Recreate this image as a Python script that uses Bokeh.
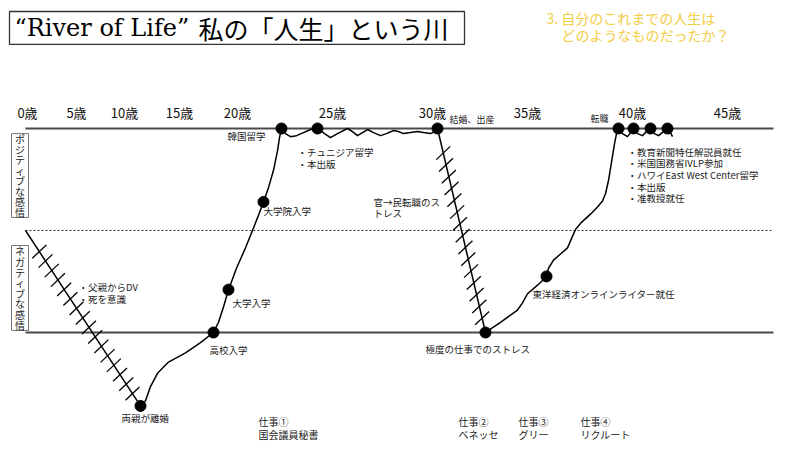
from bokeh.plotting import figure
from bokeh.models import Range1d
from bokeh.core.properties import value
from bokeh.embed import file_html
from bokeh.resources import INLINE
import numpy as np

JP = "Noto Sans CJK JP"

# ---------------- data ----------------
# timeline (horizontal position) tick labels
age_labels = ["0歳", "5歳", "10歳", "15歳", "20歳", "25歳", "30歳", "35歳", "40歳", "45歳"]
age_pos = [27, 76, 124, 179, 237, 332, 432, 527, 632, 727]
age_label_level = 116

# emotion reference levels
level_names = ["positive", "neutral", "negative"]
level_values = [100, 0, -100]
timeline_start, timeline_end = 25, 773

# hard periods (hatched straight segments): start/end (position, emotion)
hard_x0 = [25, 437]
hard_y0 = [0, 100]
hard_x1 = [140, 485]
hard_y1 = [-172, -100]
hard_n = [16, 15]

# smooth river segments
seg_b_x = [140, 145, 150, 157, 168, 185, 200, 213, 218, 223, 228, 236, 245, 252, 258, 263, 268, 273, 277, 279, 281]
seg_b_y = [-172, -167, -153, -140, -129, -120, -110, -100, -90, -75, -58, -37, -17, 0, 15, 28, 42, 59, 78, 91, 100]

wave1_x = [281, 285, 290, 296, 303, 310, 317, 324, 330, 337, 347, 352, 357, 362, 367, 373, 380, 386, 393, 398, 403, 410, 417, 423, 430, 434, 437]
wave1_y = [100, 95, 92, 93, 96, 99, 100, 95, 91, 95, 100, 97, 93, 96, 99, 96, 93, 95, 98, 97, 95, 96, 97, 96, 95, 97, 100]

seg_d_x = [485, 500, 510, 517, 522, 527, 533, 540, 546, 548, 553, 560, 567, 571, 575, 581, 590, 597, 602, 605, 608, 610, 612, 614, 616, 618]
seg_d_y = [-100, -90, -83, -78, -71, -62, -57, -51, -45, -37, -29, -23, -17, -8, 1, 8, 16, 23, 29, 36, 49, 61, 73, 85, 95, 100]

wave2_x = [618, 622, 627, 630, 633, 637, 642, 646, 650, 654, 658, 663, 667, 670, 672]
wave2_y = [100, 95, 92, 96, 100, 95, 93, 97, 100, 95, 93, 97, 100, 96, 92]

# events (dots)
event_x = [140, 213, 228, 263, 281, 317, 437, 485, 546, 618, 633, 650, 667]
event_y = [-172, -100, -58, 28, 100, 100, 100, -100, -45, 100, 100, 100, 100]

# annotations (9.5px)
note_text = ["韓国留学", "・チュニジア留学", "・本出版", "大学院入学", "官→民転職のス", "トレス",
             "大学入学", "・父親からDV", "・死を意識", "高校入学", "極度の仕事でのストレス",
             "東洋経済オンラインライター就任",
             "・教育新聞特任解説員就任", "・米国国務省IVLP参加", "・ハワイEast West Center留学",
             "・本出版", "・准教授就任", "両親が離婚"]
note_x = [227, 297, 297, 263, 373, 373, 232, 78, 78, 209, 425, 532, 627, 627, 627, 627, 627, 121]
note_y = [93, 76.5, 65, 19.6, 28.4, 16.7, -70.6, -55, -66.7, -116.7, -115.7, -61.8,
          76.5, 65.7, 54.9, 43.1, 31.4, -183.5]

# small notes near the top line
small_text = ["結婚、出産", "転職"]
small_x = [449, 590]
small_y = [108.8, 109.8]

# jobs along the bottom
job_title = ["仕事①", "仕事②", "仕事③", "仕事④"]
job_name = ["国会議員秘書", "ベネッセ", "グリー", "リクルート"]
job_x = [258, 458, 518, 580]
job_title_y = -187.3
job_name_y = -200

# emotion side labels (vertical)
side_labels = ["ポジティブな感情", "ネガティブな感情"]
side_top = [95, -14.7]
side_bottom = [12.7, -98]
side_left, side_right = 11, 28

title_latin = "“River of Life”"
title_jp = "私の「人生」という川"
question = ["3. 自分のこれまでの人生は", "どのようなものだったか？"]

# ---------------- figure ----------------
p = figure(width=800, height=450, x_range=Range1d(0, 800), y_range=Range1d(-215.7, 225.5),
           output_backend="svg", toolbar_location=None, min_border=0,
           x_axis_type=None, y_axis_type=None)
p.grid.visible = False
p.outline_line_color = None
p.background_fill_color = "white"

# reference lines
for name, lv in zip(level_names, level_values):
    if name == "neutral":
        p.line([timeline_start, timeline_end], [lv, lv], line_color="#333333", line_width=1,
               line_dash="2 2")
    else:
        p.line([timeline_start, timeline_end], [lv, lv], line_color="#4a4a4a", line_width=1.8)

# hatched hard periods
hx0, hy0, hx1, hy1 = [], [], [], []
for x0, y0, x1, y1, n in zip(hard_x0, hard_y0, hard_x1, hard_y1, hard_n):
    p.line([x0, x1], [y0, y1], line_color="black", line_width=1.5)
    for t in np.linspace(0.12, 0.93, n):
        cx = x0 + (x1 - x0) * t
        cy = y0 + (y1 - y0) * t
        hx0.append(cx - 7.0); hy0.append(cy - 6.5)
        hx1.append(cx + 7.0); hy1.append(cy + 6.5)
p.segment(hx0, hy0, hx1, hy1, line_color="black", line_width=1.3)

for xs, ys in [(seg_b_x, seg_b_y), (wave1_x, wave1_y), (seg_d_x, seg_d_y), (wave2_x, wave2_y)]:
    p.line(xs, ys, line_color="black", line_width=1.5, line_join="round")

p.scatter(event_x, event_y, size=11, fill_color="black", line_color="black")

# age labels
p.text(age_pos, [age_label_level] * len(age_pos), text=age_labels, text_font=value(JP),
       text_font_size="13px", text_align="center", text_baseline="middle", text_color="#111111")

# annotations
p.text(note_x, note_y, text=note_text, text_font=value(JP), text_font_size="9.5px",
       text_align="left", text_baseline="middle", text_color="#222222")
p.text(small_x, small_y, text=small_text, text_font=value(JP), text_font_size="9px",
       text_align="left", text_baseline="middle", text_color="#222222")
p.text(job_x, [job_title_y] * len(job_x), text=job_title, text_font=value(JP), text_font_size="10px",
       text_align="left", text_baseline="middle", text_color="#222222")
p.text(job_x, [job_name_y] * len(job_x), text=job_name, text_font=value(JP), text_font_size="10px",
       text_align="left", text_baseline="middle", text_color="#222222")

# side labels: boxes with vertical text
p.quad(left=[side_left] * 2, right=[side_right] * 2, top=side_top, bottom=side_bottom,
       fill_color="white", line_color="#777777", line_width=1)
cx, cy, ct = [], [], []
for lab, top, bot in zip(side_labels, side_top, side_bottom):
    chars = list(lab)
    step = (top - bot) / len(chars)
    for i, ch in enumerate(chars):
        cx.append((side_left + side_right) / 2)
        cy.append(top - (i + 0.5) * step)
        ct.append(ch)
p.text(cx, cy, text=ct, text_font=value(JP), text_font_size="10px",
       text_align="center", text_baseline="middle", text_color="#222222")

# title box
p.quad(left=[9], right=[464], top=[214.7], bottom=[182.4], fill_color="white",
       line_color="#333333", line_width=1.3)
p.text([14], [198.6], text=[title_latin], text_font=value("DejaVu Serif"),
       text_font_size="24px", text_align="left", text_baseline="middle", text_color="black")
p.text([198], [198.6], text=[title_jp], text_font=value(JP),
       text_font_size="25px", text_align="left", text_baseline="middle", text_color="black")

# question (yellow)
p.text([546, 561], [208.8, 192], text=question, text_font=value(JP), text_font_size="14px",
       text_align="left", text_baseline="middle", text_color="#f2cd45")

open("out.html", "w").write(file_html(p, INLINE))
